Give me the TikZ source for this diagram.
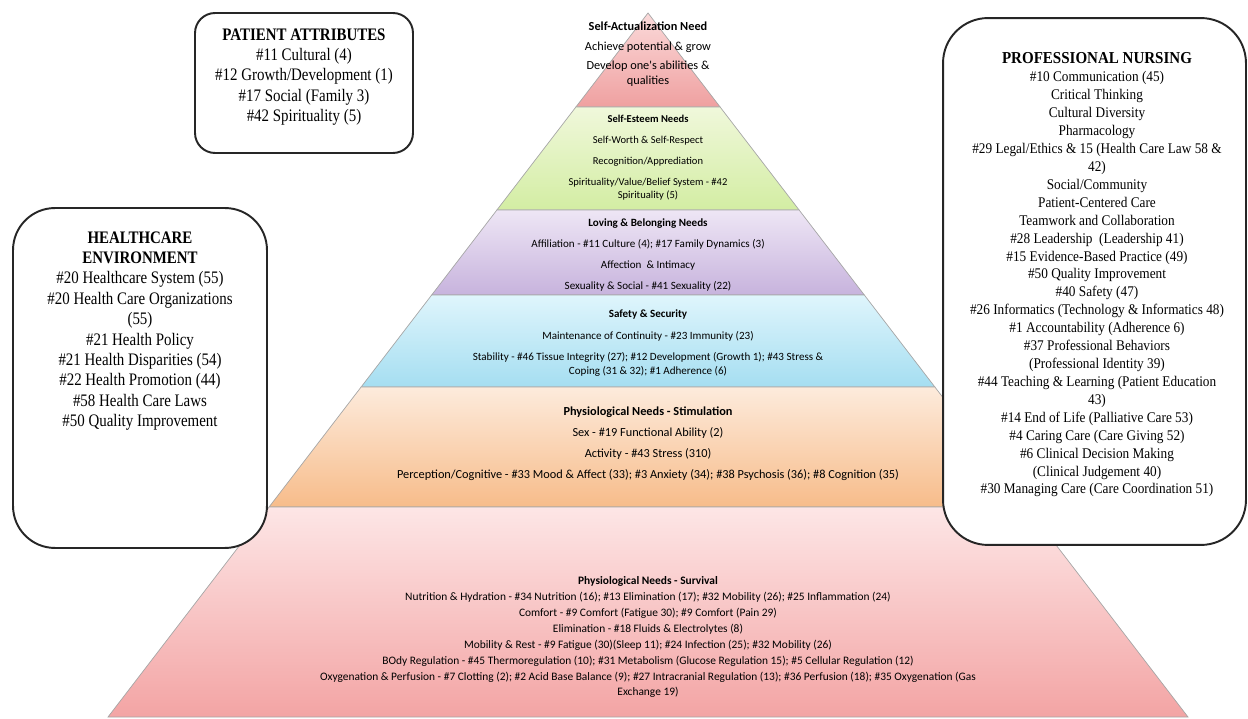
\documentclass[tikz,border=0pt]{standalone}
\usepackage{fontspec}
\setmainfont{Liberation Serif}
\newfontfamily\boxfont[FakeStretch=0.85]{Liberation Serif}
\newfontfamily\pronfont[FakeStretch=0.9]{Liberation Serif}
\newfontfamily\pyrfont{Carlito}
\usetikzlibrary{calc}

\definecolor{actTop}{HTML}{FBDADA}
\definecolor{actBot}{HTML}{EFA0A0}
\definecolor{estTop}{HTML}{F0F8DB}
\definecolor{estBot}{HTML}{D3EDA3}
\definecolor{belTop}{HTML}{EEE6F5}
\definecolor{belBot}{HTML}{C7B3DD}
\definecolor{safTop}{HTML}{DFF5FC}
\definecolor{safBot}{HTML}{A5DEF1}
\definecolor{stiTop}{HTML}{FDEBDC}
\definecolor{stiBot}{HTML}{F7BC8A}
\definecolor{surTop}{HTML}{FDE6E6}
\definecolor{surBot}{HTML}{F3A4A4}

\tikzset{
  tier/.style={draw=gray!70, line width=0.4pt},
  tiertext/.style 2 args={align=center, inner sep=0pt,
                   font=\pyrfont\fontsize{#1}{#2}\selectfont},
  infobox/.style={draw=black!85, line width=1.1pt, fill=white},
  boxtext/.style={align=center, inner sep=0pt,
                  font=\boxfont\fontsize{10}{11.6}\selectfont},
  protext/.style={align=center, inner sep=0pt,
                  font=\pronfont\fontsize{8.4}{10.2}\selectfont},
}

\begin{document}
\begin{tikzpicture}[x=0.02cm, y=-0.02cm]
  \useasboundingbox (0,0) rectangle (1248,719);

  % pyramid outline
  \coordinate (apex)  at (648,13);
  \coordinate (baseL) at (108,717);
  \coordinate (baseR) at (1188,717);
  \foreach \i/\f in {1/0.1335, 2/0.2798, 3/0.4006, 4/0.5312, 5/0.7017}{
    \coordinate (L\i) at ($(apex)!\f!(baseL)$);
    \coordinate (R\i) at ($(apex)!\f!(baseR)$);
  }

  \path[tier, top color=actTop, bottom color=actBot] (apex) -- (R1) -- (L1) -- cycle;
  \path[tier, top color=estTop, bottom color=estBot] (L1) -- (R1) -- (R2) -- (L2) -- cycle;
  \path[tier, top color=belTop, bottom color=belBot] (L2) -- (R2) -- (R3) -- (L3) -- cycle;
  \path[tier, top color=safTop, bottom color=safBot] (L3) -- (R3) -- (R4) -- (L4) -- cycle;
  \path[tier, top color=stiTop, bottom color=stiBot] (L4) -- (R4) -- (R5) -- (L5) -- cycle;
  \path[tier, top color=surTop, bottom color=surBot] (L5) -- (R5) -- (baseR) -- (baseL) -- cycle;

  % tier texts
  \node[tiertext={7pt}{8.2pt}] (selfact) at (648,54)
    {{\bfseries Self-Actualization Need}\\[3pt]
     Achieve potential \& grow\\[3pt]
     Develop one's abilities \&\\ qualities};

  \node[tiertext={6pt}{7.6pt}] (esteem) at (648,158)
    {{\bfseries Self-Esteem Needs}\\[4.3pt]
     Self-Worth \& Self-Respect\\[4.3pt]
     Recognition/Apprediation\\[4.3pt]
     Spirituality/Value/Belief System - \#42\\ Spirituality (5)};

  \node[tiertext={6.3pt}{7.8pt}] (belong) at (648,255)
    {{\bfseries Loving \& Belonging Needs}\\[4.1pt]
     Affiliation - \#11 Culture (4); \#17 Family Dynamics (3)\\[4.1pt]
     Affection \ \& Intimacy\\[4.1pt]
     Sexuality \& Social - \#41 Sexuality (22)};

  \node[tiertext={6.3pt}{7.8pt}] (safety) at (648,343)
    {{\bfseries Safety \& Security}\\[4.6pt]
     Maintenance of Continuity - \#23 Immunity (23)\\[4.6pt]
     Stability - \#46 Tissue Integrity (27); \#12 Development (Growth 1); \#43 Stress \&\\
     Coping (31 \& 32); \#1 Adherence (6)};

  \node[tiertext={7pt}{8.4pt}] (stimul) at (648,444)
    {{\bfseries Physiological Needs - Stimulation}\\[3.5pt]
     Sex - \#19 Functional Ability (2)\\[3.5pt]
     Activity - \#43 Stress (310)\\[3.5pt]
     Perception/Cognitive - \#33 Mood \& Affect (33); \#3 Anxiety (34); \#38 Psychosis (36); \#8 Cognition (35)};

  \node[tiertext={6.5pt}{8.3pt}] (survival) at (648,637)
    {{\bfseries Physiological Needs - Survival}\\[0.8pt]
     Nutrition \& Hydration - \#34 Nutrition (16); \#13 Elimination (17); \#32 Mobility (26); \#25 Inflammation (24)\\[0.8pt]
     Comfort - \#9 Comfort (Fatigue 30); \#9 Comfort (Pain 29)\\[0.8pt]
     Elimination - \#18 Fluids \& Electrolytes (8)\\[0.8pt]
     Mobility \& Rest - \#9 Fatigue (30)(Sleep 11); \#24 Infection (25); \#32 Mobility (26)\\[0.8pt]
     BOdy Regulation - \#45 Thermoregulation (10); \#31 Metabolism (Glucose Regulation 15); \#5 Cellular Regulation (12)\\[0.8pt]
     Oxygenation \& Perfusion - \#7 Clotting (2); \#2 Acid Base Balance (9); \#27 Intracranial Regulation (13); \#36 Perfusion (18); \#35 Oxygenation (Gas\\
     Exchange 19)};

  % side boxes
  \node[infobox, rounded corners=0.4cm, minimum width=4.36cm, minimum height=2.8cm]
    (patient) at (304,83) {};
  \node[boxtext] (patient-txt) at (304,77)
    {{\bfseries PATIENT ATTRIBUTES}\\
     \#11 Cultural (4)\\
     \#12 Growth/Development (1)\\
     \#17 Social (Family 3)\\
     \#42 Spirituality (5)};

  \node[infobox, rounded corners=0.84cm, minimum width=5.08cm, minimum height=6.8cm]
    (health) at (140,378) {};
  \node[boxtext] (health-txt) at (140,331)
    {{\bfseries HEALTHCARE}\\
     {\bfseries ENVIRONMENT}\\
     \#20 Healthcare System (55)\\
     \#20 Health Care Organizations\\
     (55)\\
     \#21 Health Policy\\
     \#21 Health Disparities (54)\\
     \#22 Health Promotion (44)\\
     \#58 Health Care Laws\\
     \#50 Quality Improvement};

  \node[infobox, rounded corners=0.9cm, minimum width=6.06cm, minimum height=10.54cm]
    (nursing) at (1094.5,281.5) {};
  \node[protext] (nursing-txt) at (1097,275)
    {{\bfseries\fontsize{9.5}{11}\selectfont PROFESSIONAL NURSING}\\
     \#10 Communication (45)\\
     Critical Thinking\\
     Cultural Diversity\\
     Pharmacology\\
     \#29 Legal/Ethics \& 15 (Health Care Law 58 \&\\
     42)\\
     Social/Community\\
     Patient-Centered Care\\
     Teamwork and Collaboration\\
     \#28 Leadership \ (Leadership 41)\\
     \#15 Evidence-Based Practice (49)\\
     \#50 Quality Improvement\\
     \#40 Safety (47)\\
     \#26 Informatics (Technology \& Informatics 48)\\
     \#1 Accountability (Adherence 6)\\
     \#37 Professional Behaviors\\
     (Professional Identity 39)\\
     \#44 Teaching \& Learning (Patient Education\\
     43)\\
     \#14 End of Life (Palliative Care 53)\\
     \#4 Caring Care (Care Giving 52)\\
     \#6 Clinical Decision Making\\
     (Clinical Judgement 40)\\
     \#30 Managing Care (Care Coordination 51)};
\end{tikzpicture}
\end{document}
